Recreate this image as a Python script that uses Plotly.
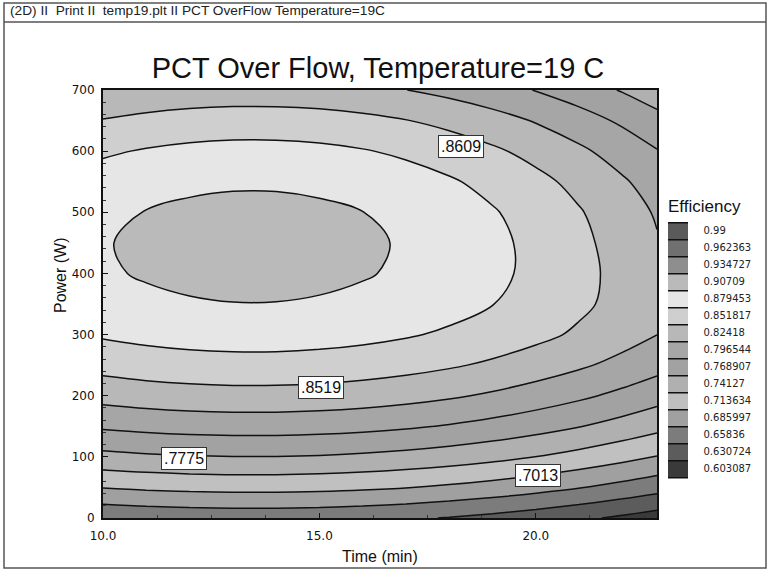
import plotly.graph_objects as go

# ---- data ----
time_min = [10, 11, 12, 13, 14, 15, 16, 17, 18, 19, 20, 21, 22, 22.8]
power_w = [0, 50, 100, 150, 200, 250, 300, 350, 400, 450, 500, 550, 600, 650, 700]
efficiency = [
    [.6485, .6519, .6542, .6554, .6553, .6541, .6516, .6480, .6433, .6373, .6302, .6219, .6124, .6039],
    [.7010, .7046, .7069, .7081, .7081, .7068, .7043, .7005, .6956, .6894, .6821, .6735, .6636, .6549],
    [.7471, .7509, .7534, .7546, .7545, .7532, .7505, .7466, .7415, .7350, .7272, .7182, .7079, .6988],
    [.7868, .7908, .7935, .7948, .7947, .7933, .7905, .7863, .7808, .7740, .7657, .7561, .7452, .7355],
    [.8202, .8245, .8273, .8287, .8286, .8271, .8241, .8197, .8139, .8066, .7979, .7878, .7762, .7659],
    [.8476, .8520, .8549, .8563, .8562, .8547, .8516, .8471, .8411, .8337, .8247, .8143, .8023, .7918],
    [.8686, .8732, .8762, .8776, .8776, .8759, .8728, .8681, .8619, .8541, .8448, .8339, .8215, .8105],
    [.8825, .8876, .8910, .8927, .8926, .8908, .8872, .8819, .8749, .8661, .8555, .8433, .8293, .8168],
    [.8900, .8958, .8996, .9015, .9014, .8993, .8953, .8893, .8814, .8715, .8596, .8458, .8300, .8160],
    [.8917, .8979, .9020, .9040, .9039, .9016, .8973, .8909, .8824, .8718, .8591, .8443, .8274, .8124],
    [.8878, .8940, .8982, .9002, .9001, .8979, .8935, .8870, .8785, .8678, .8549, .8400, .8229, .8077],
    [.8779, .8841, .8881, .8901, .8900, .8878, .8835, .8771, .8686, .8580, .8453, .8305, .8136, .7986],
    [.8618, .8678, .8719, .8738, .8737, .8716, .8673, .8610, .8527, .8423, .8298, .8153, .7987, .7840],
    [.8395, .8454, .8493, .8512, .8511, .8490, .8449, .8388, .8307, .8206, .8085, .7944, .7783, .7640],
    [.8112, .8168, .8205, .8223, .8222, .8203, .8164, .8106, .8029, .7933, .7818, .7684, .7531, .7395],
]

legend_values = [0.603087, 0.630724, 0.65836, 0.685997, 0.713634, 0.74127, 0.768907,
                 0.796544, 0.82418, 0.851817, 0.879453, 0.90709, 0.934727, 0.962363, 0.99]
legend_labels = ["0.603087", "0.630724", "0.65836", "0.685997", "0.713634", "0.74127", "0.768907",
                 "0.796544", "0.82418", "0.851817", "0.879453", "0.90709", "0.934727", "0.962363", "0.99"]
band_grays = ["#3a3a3a", "#5c5c5c", "#7c7c7c", "#a0a0a0", "#c0c0c0", "#b0b0b0", "#a2a2a2",
              "#a6a6a6", "#b8b8b8", "#cfcfcf", "#e6e6e6", "#bababa", "#8e8e8e", "#707070", "#5a5a5a"]

label_text = [".8609", ".8519", ".7775", ".7013"]
label_time = [18.26, 15.03, 11.86, 20.04]
label_power = [607, 213, 98, 70]

step = (legend_values[-1] - legend_values[0]) / (len(legend_values) - 1)
# one extra (empty) band outside each end so every legend cell has full height
stops = ["white"] + band_grays + ["white"]
colorscale = [[i / (len(stops) - 1), c] for i, c in enumerate(stops)]

# plot area in pixels
L, R, T, B = 103, 657, 90, 518
W, H = 769, 570


def px(x):
    return (x - L) / (R - L)


def py(y):
    return (B - y) / (B - T)


fig = go.Figure()
fig.add_trace(go.Contour(
    x=time_min, y=power_w, z=efficiency,
    autocontour=False,
    contours=dict(start=legend_values[0] - step / 2,
                  end=legend_values[-1] + step / 2 + step * 0.01,
                  size=step, coloring="fill", showlines=True),
    line=dict(color="#111111", width=1.5, smoothing=1.0),
    colorscale=colorscale,
    hoverinfo="skip",
    colorbar=dict(
        x=px(668), xanchor="left", xpad=0,
        y=py(349.5), yanchor="middle", ypad=0,
        thickness=20, len=272, lenmode="pixels",
        outlinewidth=0,
        tickvals=legend_values, ticktext=legend_labels,
        ticks="outside", ticklen=14, tickcolor="rgba(0,0,0,0)",
        tickfont=dict(family="DejaVu Sans", size=10, color="#222"),
    ),
))

annotations = []
for txt, tx, pw in zip(label_text, label_time, label_power):
    annotations.append(dict(
        x=tx, y=pw, xref="x", yref="y", text=txt, showarrow=False,
        font=dict(family="Liberation Sans, Arial", size=16, color="#111"),
        bgcolor="white", bordercolor="#333", borderwidth=1, borderpad=2,
    ))

annotations += [
    dict(x=px(666), y=py(207), xref="paper", yref="paper", text="Efficiency",
         showarrow=False, xanchor="left", yanchor="middle",
         font=dict(family="Liberation Sans, Arial", size=17, color="#111")),
    dict(x=px(8), y=py(11), xref="paper", yref="paper",
         text="(2D) II  Print II  temp19.plt II PCT OverFlow Temperature=19C",
         showarrow=False, xanchor="left", yanchor="middle",
         font=dict(family="Liberation Sans, Arial", size=13.7, color="#222")),
    dict(x=px(60), y=py(275), xref="paper", yref="paper", text="Power (W)",
         showarrow=False, textangle=-90, xanchor="center", yanchor="middle",
         font=dict(family="Liberation Sans, Arial", size=16, color="#111")),
    dict(x=px(380), y=py(556), xref="paper", yref="paper", text="Time (min)",
         showarrow=False, xanchor="center", yanchor="middle",
         font=dict(family="Liberation Sans, Arial", size=16, color="#111")),
]

shapes = [
    dict(type="rect", xref="paper", yref="paper", x0=px(4), x1=px(766), y0=py(3), y1=py(568),
         line=dict(color="#555", width=1.5), layer="below"),
    dict(type="line", xref="paper", yref="paper", x0=px(4), x1=px(766), y0=py(22), y1=py(22),
         line=dict(color="#555", width=1.5)),
]

fig.update_layout(
    width=W, height=H,
    margin=dict(l=L, r=W - R, t=T, b=H - B),
    paper_bgcolor="white", plot_bgcolor="white",
    title=dict(text="PCT Over Flow, Temperature=19 C", x=px(378), xref="paper", xanchor="center",
               y=1 - 68 / H, yref="container", yanchor="middle",
               font=dict(family="Liberation Sans, Arial", size=29, color="#111")),
    annotations=annotations, shapes=shapes,
    showlegend=False,
)
fig.update_xaxes(range=[10, 22.8], tickvals=[10, 15, 20], ticktext=["10.0", "15.0", "20.0"],
                 ticks="inside", ticklen=5, tickcolor="#111", showgrid=False, zeroline=False,
                 showline=True, linecolor="#111", linewidth=2, mirror=True,
                 ticklabelstandoff=6,
                 tickfont=dict(family="DejaVu Sans", size=12, color="#111"),
                 minor=dict(ticks="inside", ticklen=3, dtick=1.25, tickcolor="#333"))
fig.update_yaxes(range=[0, 700], dtick=100,
                 ticks="inside", ticklen=5, tickcolor="#111", showgrid=False, zeroline=False,
                 showline=True, linecolor="#111", linewidth=2, mirror=True,
                 ticklabelstandoff=4,
                 tickfont=dict(family="DejaVu Sans", size=12, color="#111"),
                 minor=dict(ticks="inside", ticklen=3, dtick=20, tickcolor="#333"))

fig.write_html("out.html", config={"displayModeBar": False},
               post_script="document.body.style.margin='0';")
